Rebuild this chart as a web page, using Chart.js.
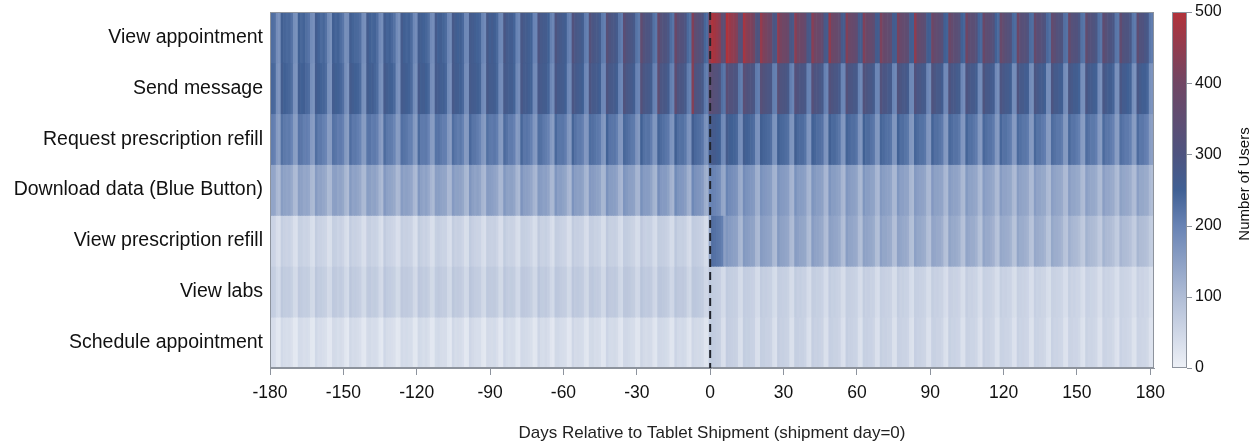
<!DOCTYPE html>
<html>
<head>
<meta charset="utf-8">
<script src="https://cdn.jsdelivr.net/npm/chart.js@4.4.1/dist/chart.umd.min.js"></script>
<style>
  html, body { margin: 0; padding: 0; background: #fff; }
</style>
</head>
<body>
<canvas id="heat" width="1260" height="445"></canvas>
<script>
const rowLabels = ['View appointment', 'Send message', 'Request prescription refill',
  'Download data (Blue Button)', 'View prescription refill', 'View labs', 'Schedule appointment'];
const xTicks = [-180, -150, -120, -90, -60, -30, 0, 30, 60, 90, 120, 150, 180];
const cbTicks = [0, 100, 200, 300, 400, 500];
const firstDay = -180;

// users per day, day -180 .. 181 (first line is Wed-Sun, then one week per line)
const viewAppointment = [
  238,231,226,182,176,
  254,243,236,239,224,180,173,
  250,239,246,229,221,185,177,
  262,246,235,242,226,187,175,
  253,241,247,232,219,178,181,
  258,245,239,236,228,183,178,
  266,249,242,246,230,189,180,
  259,244,250,238,225,186,176,
  268,252,243,249,233,191,184,
  262,256,247,241,229,188,182,
  271,250,258,245,235,194,185,
  276,260,251,254,238,192,188,
  269,263,256,247,241,197,186,
  279,258,265,253,237,195,190,
  287,267,259,261,244,200,192,
  283,271,264,256,247,198,194,
  296,275,268,265,250,204,196,
  301,281,272,263,255,206,200,
  312,286,277,272,259,210,202,
  321,292,283,277,263,213,205,
  332,299,289,283,269,218,208,
  341,306,296,288,275,222,212,
  356,315,301,296,281,226,216,
  372,324,310,303,288,231,220,
  389,335,319,311,295,236,225,
  428,349,331,320,304,242,233,
  455,492,478,463,441,352,338,
  498,470,452,446,425,331,318,
  482,441,428,419,402,309,298,
  456,420,411,398,386,296,287,
  448,409,396,390,377,289,281,
  441,401,388,383,369,284,276,
  436,396,384,376,362,279,270,
  452,392,379,371,358,276,268,
  429,388,375,368,354,272,265,
  424,384,371,364,349,269,262,
  419,379,368,360,346,266,259,
  414,376,364,356,342,263,256,
  445,372,360,351,338,260,253,
  398,361,352,342,329,252,246,
  392,366,344,336,325,248,241,
  401,350,339,338,318,244,238,
  385,346,341,328,314,247,235,
  379,352,331,323,312,237,232,
  390,337,326,324,305,234,229,
  372,333,329,315,301,238,226,
  366,338,318,310,299,228,223,
  375,325,314,312,293,225,220,
  359,321,316,302,289,226,218,
  354,327,306,298,287,219,215,
  362,313,302,300,282,217,213,
  348,309,305,291,278,216,210
];
const sendMessage = [
  248,241,236,176,170,
  262,251,244,240,229,174,168,
  258,249,253,238,231,179,171,
  266,255,247,244,233,176,172,
  261,252,249,241,228,181,169,
  268,257,251,246,235,178,173,
  264,254,258,243,232,183,175,
  271,259,252,249,237,180,172,
  267,261,255,247,234,185,176,
  273,258,260,251,239,182,178,
  270,263,256,254,241,187,177,
  276,262,259,250,238,184,179,
  272,266,261,255,243,189,180,
  279,264,263,257,240,186,182,
  275,268,260,259,245,190,181,
  282,267,265,256,247,188,184,
  278,271,264,261,244,193,185,
  286,269,268,263,249,191,187,
  290,274,266,260,251,195,186,
  294,276,271,265,253,193,189,
  301,280,274,268,256,198,191,
  309,284,277,271,258,200,194,
  322,289,281,275,262,203,196,
  346,293,285,279,266,206,199,
  352,299,290,284,270,209,202,
  431,307,296,289,276,214,206,
  352,334,321,318,302,228,219,
  341,316,311,301,296,215,206,
  337,313,303,299,287,211,205,
  329,309,301,292,286,206,203,
  331,303,297,293,280,207,197,
  323,304,292,290,282,201,199,
  326,298,295,285,276,203,194,
  318,301,289,286,273,197,196,
  321,294,291,279,275,199,190,
  313,297,284,282,268,194,193,
  316,290,288,276,271,197,188,
  309,293,281,279,265,191,190,
  312,286,284,272,268,194,185,
  304,289,277,275,261,188,188,
  307,283,280,268,264,191,182,
  301,285,273,271,257,186,185,
  303,279,276,265,260,189,180,
  296,282,270,267,254,183,183,
  299,276,272,261,256,186,178,
  292,278,266,264,250,181,180,
  295,272,269,258,253,184,176,
  289,275,262,260,247,179,178,
  291,269,265,254,249,182,174,
  285,271,259,257,244,177,176,
  287,266,261,251,246,180,172,
  282,268,256,253,241,176,174
];
const requestRefill = [
  214,209,203,158,152,
  226,215,209,212,198,156,150,
  221,218,206,208,201,160,153,
  229,212,214,205,196,154,157,
  224,219,208,211,203,161,152,
  231,214,216,207,199,157,155,
  219,221,210,213,204,163,151,
  233,216,212,209,197,155,158,
  227,222,217,206,205,162,154,
  235,213,211,214,200,158,156,
  222,224,215,208,206,164,153,
  230,217,209,216,202,159,160,
  238,220,218,210,199,165,155,
  226,215,213,217,207,161,157,
  234,223,210,211,203,157,162,
  240,218,221,214,205,166,158,
  229,226,214,209,201,162,156,
  237,219,217,219,208,167,160,
  243,224,212,213,204,163,164,
  232,228,222,216,210,169,159,
  246,221,219,220,206,165,163,
  239,231,224,215,212,170,161,
  249,226,220,223,208,166,165,
  244,234,227,219,214,172,168,
  252,230,225,226,216,175,170,
  258,238,231,228,219,178,173,
  262,271,265,258,249,192,184,
  268,255,251,246,238,183,177,
  259,248,244,239,231,176,172,
  254,243,240,236,228,173,169,
  251,240,237,231,226,171,168,
  256,237,234,233,222,169,165,
  248,241,231,228,224,172,167,
  252,235,236,226,219,168,164,
  245,238,229,230,221,170,166,
  249,232,233,224,217,166,162,
  243,236,227,227,219,168,164,
  247,230,231,222,215,165,161,
  241,233,225,225,217,167,163,
  245,228,229,220,213,163,159,
  239,231,223,223,215,165,162,
  243,226,227,218,211,162,158,
  237,229,221,221,213,164,160,
  241,224,225,216,209,160,157,
  235,227,219,219,211,162,159,
  239,222,223,214,207,159,155,
  233,225,217,217,209,161,158,
  237,220,221,212,205,157,154,
  231,223,215,215,207,160,156,
  235,218,219,210,203,156,153,
  229,221,213,213,205,158,155,
  233,216,217,208,201,155,152
];
const downloadData = [
  148,142,139,108,103,
  156,147,141,144,133,106,101,
  152,149,138,142,136,109,104,
  159,143,146,139,131,104,107,
  150,151,140,145,137,111,102,
  161,145,148,141,134,107,105,
  154,152,143,147,138,112,103,
  163,148,144,140,135,105,108,
  157,146,150,145,139,110,104,
  165,150,142,148,136,113,106,
  153,154,147,143,140,108,109,
  160,147,149,146,137,111,105,
  167,152,145,150,141,114,107,
  158,156,151,144,138,109,110,
  164,149,147,149,142,112,106,
  170,153,152,146,139,115,108,
  161,157,148,151,143,110,111,
  168,151,154,147,140,113,107,
  172,155,150,152,144,116,109,
  163,159,153,149,141,111,112,
  174,156,156,154,145,117,110,
  169,161,152,150,146,114,113,
  176,158,157,155,143,118,111,
  181,163,160,158,149,120,114,
  187,171,166,163,155,124,118,
  192,176,170,168,160,128,121,
  194,201,196,190,183,142,135,
  199,186,181,177,170,132,126,
  184,173,169,166,160,124,119,
  176,166,163,159,154,119,115,
  172,162,160,156,151,117,113,
  175,159,157,154,148,115,111,
  169,161,154,151,149,113,110,
  171,156,156,149,146,114,108,
  166,158,152,150,143,111,109,
  168,154,153,147,145,112,107,
  164,155,150,148,142,110,108,
  166,151,151,145,143,111,106,
  161,153,148,146,140,109,107,
  163,149,149,143,141,110,105,
  159,150,146,144,138,108,106,
  161,147,147,141,139,109,104,
  157,148,144,142,136,107,105,
  159,145,145,139,137,108,103,
  155,146,142,140,134,106,104,
  157,143,143,137,135,107,102,
  153,144,140,138,132,105,103,
  155,141,141,135,133,106,101,
  151,142,138,136,130,104,102,
  153,139,139,133,131,105,100,
  149,140,136,134,128,103,101,
  151,137,137,131,129,104,99
];
const viewRefill = [
  62,58,55,36,33,
  68,61,57,59,52,34,31,
  64,63,55,58,54,37,33,
  70,59,60,56,51,33,35,
  66,64,56,61,55,38,32,
  71,60,62,57,53,35,34,
  65,66,58,60,56,39,33,
  73,62,59,55,52,34,36,
  67,61,63,59,57,37,33,
  72,64,57,62,54,36,35,
  64,67,61,58,58,39,34,
  70,60,63,61,53,35,37,
  74,65,59,57,56,38,34,
  66,63,62,63,55,36,36,
  72,61,58,60,57,39,35,
  68,66,64,59,54,37,38,
  75,62,60,64,58,40,35,
  69,67,61,58,55,36,37,
  73,63,65,62,59,41,36,
  67,68,60,61,56,38,39,
  76,64,63,65,60,42,37,
  71,69,66,60,57,39,40,
  78,65,62,64,61,43,38,
  72,70,67,63,58,40,41,
  79,66,64,66,62,44,39,
  74,71,68,65,60,42,40,
  140,228,224,219,214,205,152,
  168,159,154,150,146,112,106,
  162,155,151,147,143,109,104,
  158,152,148,145,140,107,102,
  161,149,146,142,138,106,101,
  155,150,143,140,137,104,99,
  157,146,144,138,135,103,98,
  152,147,141,139,133,101,97,
  154,143,142,136,132,100,96,
  149,144,139,137,130,99,95,
  151,140,140,134,129,98,94,
  146,141,136,135,127,97,93,
  148,138,137,131,126,96,92,
  143,139,134,132,124,95,91,
  145,135,135,129,123,94,90,
  141,136,131,130,121,93,89,
  142,132,132,127,120,92,88,
  138,133,129,127,118,91,87,
  140,130,129,124,117,90,86,
  136,131,126,125,115,89,85,
  137,128,127,122,114,88,84,
  124,112,109,106,99,79,75,
  118,108,106,102,96,76,73,
  116,105,104,100,94,74,71,
  113,104,101,98,92,73,70,
  111,102,100,96,91,72,69
];
const viewLabs = [
  74,69,66,46,43,
  79,72,69,71,64,45,42,
  76,74,67,70,66,47,44,
  81,71,72,68,63,44,46,
  77,75,68,73,67,48,43,
  82,72,74,69,65,46,45,
  75,77,70,72,68,49,44,
  83,74,71,67,64,45,47,
  78,73,75,71,69,48,44,
  80,76,69,74,66,47,46,
  74,78,73,70,70,49,45,
  81,72,75,73,65,46,48,
  84,77,71,69,68,48,45,
  77,75,74,75,67,47,47,
  82,73,70,72,69,49,46,
  79,78,76,71,66,48,48,
  85,74,72,76,70,50,46,
  80,79,73,70,67,47,48,
  83,75,77,74,71,51,47,
  78,80,72,73,68,48,49,
  86,76,75,77,72,52,48,
  81,81,78,72,69,49,50,
  87,77,74,76,73,53,49,
  82,82,79,75,70,50,51,
  85,78,76,78,74,54,49,
  81,80,77,74,71,51,50,
  76,72,70,68,65,45,42,
  74,69,68,66,63,43,41,
  71,68,67,65,61,42,40,
  73,66,68,63,62,43,39,
  70,68,65,64,60,41,40,
  72,65,67,62,61,42,38,
  69,67,64,63,59,40,39,
  71,64,66,61,60,41,38,
  68,66,63,62,58,40,39,
  70,63,65,60,59,41,37,
  67,65,62,61,57,39,38,
  69,62,64,59,58,40,37,
  66,64,61,60,56,39,38,
  68,61,63,58,57,40,36,
  65,63,60,59,55,38,37,
  67,60,62,57,56,39,36,
  64,62,59,58,54,38,37,
  66,59,61,56,55,39,35,
  63,61,58,57,53,37,36,
  65,58,60,55,54,38,35,
  62,60,57,56,52,37,36,
  64,57,59,54,53,38,34,
  61,59,56,55,51,36,35,
  63,56,58,53,52,37,34,
  60,58,55,54,50,36,35,
  62,55,57,52,51,37,33
];
const scheduleAppointment = [
  41,38,36,19,17,
  46,40,37,39,33,18,16,
  43,42,36,38,35,20,17,
  48,39,40,37,32,17,19,
  44,43,37,41,36,21,16,
  49,40,42,38,34,19,18,
  42,45,38,40,37,22,17,
  50,41,39,36,33,18,20,
  45,40,43,39,38,20,17,
  47,43,37,42,35,19,19,
  43,46,41,38,39,22,18,
  49,39,42,41,34,18,20,
  51,44,38,37,37,21,18,
  44,42,41,43,36,19,20,
  50,40,37,40,38,22,19,
  46,45,43,39,35,20,21,
  52,41,39,44,39,23,19,
  47,46,40,38,36,19,21,
  51,42,44,42,40,24,20,
  45,47,39,41,37,21,22,
  53,43,42,45,41,25,21,
  49,48,45,40,38,22,23,
  54,44,41,44,42,26,22,
  50,49,46,43,39,23,24,
  55,45,43,46,43,27,23,
  52,47,44,45,41,25,24,
  68,72,69,66,63,36,33,
  71,67,65,63,60,35,32,
  69,64,66,61,59,34,33,
  67,66,62,62,57,35,31,
  70,63,64,60,58,33,32,
  66,65,61,61,56,34,31,
  68,62,63,59,57,33,32,
  65,64,60,60,55,34,30,
  67,61,62,58,56,32,31,
  64,63,59,59,54,33,30,
  66,60,61,57,55,32,31,
  63,62,58,58,53,33,29,
  65,59,60,56,54,31,30,
  62,61,57,57,52,32,29,
  64,58,59,55,53,31,30,
  61,60,56,56,51,32,28,
  63,57,58,54,52,30,29,
  60,59,55,55,50,31,28,
  62,56,57,53,51,30,29,
  59,58,54,54,49,31,27,
  61,55,56,52,50,29,28,
  58,57,53,53,48,30,27,
  60,54,55,51,49,29,28,
  57,56,52,52,47,30,26,
  59,53,54,50,48,29,27,
  56,55,51,51,47,28,27
];

const rows = [viewAppointment, sendMessage, requestRefill, downloadData,
  viewRefill, viewLabs, scheduleAppointment];
const days = viewAppointment.map((_, i) => firstDay + i);

// colour scale of the reference (light grey-blue -> blue -> purple -> red)
const stops = [
  [0, [238, 241, 247]],
  [100, [176, 189, 214]],
  [200, [104, 131, 180]],
  [250, [64, 96, 148]],
  [300, [78, 84, 128]],
  [400, [112, 70, 100]],
  [500, [178, 50, 58]]
];

function colorFor(v) {
  for (let i = 1; i < stops.length; i++) {
    if (v <= stops[i][0] || i === stops.length - 1) {
      const [v0, c0] = stops[i - 1];
      const [v1, c1] = stops[i];
      const t = Math.max(0, Math.min(1, (v - v0) / (v1 - v0)));
      const c = c0.map((a, k) => Math.round(a + (c1[k] - a) * t));
      return `rgb(${c[0]},${c[1]},${c[2]})`;
    }
  }
}

const FONT = '"Liberation Sans", Arial, Helvetica, sans-serif';
Chart.defaults.font.family = FONT;
const axisGrey = '#8d939d';

const datasets = rows.map((vals, r) => ({
  label: rowLabels[r],
  data: vals.map((v, i) => ({ x: days[i], y: [6 - r, 7 - r] })),
  backgroundColor: vals.map(colorFor),
  borderWidth: 0,
  barPercentage: 1,
  categoryPercentage: 1,
  grouped: false
}));

const decor = {
  id: 'decor',
  afterDatasetsDraw(chart) {
    const { ctx, chartArea: a, scales } = chart;
    ctx.save();

    // frame round the heat map
    ctx.strokeStyle = axisGrey;
    ctx.lineWidth = 1;
    ctx.strokeRect(a.left + 0.5, a.top + 0.5, a.width - 1, a.height - 1);

    // shipment day
    const x0 = scales.x.getPixelForValue(0);
    ctx.setLineDash([8, 5]);
    ctx.lineWidth = 2;
    ctx.strokeStyle = '#20232b';
    ctx.beginPath();
    ctx.moveTo(x0, a.top);
    ctx.lineTo(x0, a.bottom);
    ctx.stroke();
    ctx.setLineDash([]);

    // colour bar
    const cb = scales.cb;
    const bx = a.right + 18, bw = 15;
    const top = cb.getPixelForValue(500), bot = cb.getPixelForValue(0);
    const g = ctx.createLinearGradient(0, bot, 0, top);
    stops.forEach(([v, c]) => g.addColorStop(v / 500, `rgb(${c[0]},${c[1]},${c[2]})`));
    ctx.fillStyle = g;
    ctx.fillRect(bx, top, bw, bot - top);
    ctx.strokeStyle = axisGrey;
    ctx.lineWidth = 1;
    ctx.strokeRect(bx + 0.5, top + 0.5, bw - 1, bot - top - 1);
    cbTicks.forEach(v => {
      const y = Math.round(cb.getPixelForValue(v)) + 0.5;
      ctx.beginPath();
      ctx.moveTo(bx + bw, y);
      ctx.lineTo(bx + bw + 5, y);
      ctx.stroke();
    });

    ctx.translate(1245, (top + bot) / 2 - 6);
    ctx.rotate(-Math.PI / 2);
    ctx.fillStyle = '#111';
    ctx.font = '15px ' + FONT;
    ctx.textAlign = 'center';
    ctx.textBaseline = 'middle';
    ctx.fillText('Number of Users', 0, 0);
    ctx.restore();
  }
};

// keep the plot box where the reference has it
const noPad = s => { s.paddingTop = 0; s.paddingBottom = 0; };

new Chart(document.getElementById('heat'), {
  type: 'bar',
  data: { datasets },
  options: {
    responsive: false,
    animation: false,
    devicePixelRatio: 1,
    layout: { padding: { top: 12, left: 0, right: 0, bottom: 0 } },
    plugins: {
      legend: { display: false },
      tooltip: { enabled: false }
    },
    scales: {
      x: {
        type: 'linear',
        offset: false,
        min: -180,
        max: 181.5,
        afterBuildTicks: s => { s.ticks = xTicks.map(v => ({ value: v })); },
        afterFit: s => { s.height = 77; },
        grid: { offset: false, drawOnChartArea: false, drawTicks: true, tickLength: 7, color: axisGrey },
        border: { display: true, color: axisGrey },
        ticks: {
          color: '#111',
          font: { size: 17.5 },
          padding: 8,
          maxRotation: 0,
          autoSkip: false,
          callback: v => String(v)
        },
        title: {
          display: true,
          text: 'Days Relative to Tablet Shipment (shipment day=0)',
          color: '#222',
          font: { size: 17 },
          padding: { top: 0, bottom: 1 }
        }
      },
      y: {
        type: 'linear',
        min: 0,
        max: 7,
        afterBuildTicks: s => { s.ticks = rowLabels.map((_, i) => ({ value: 6.5 - i })); },
        afterFit: s => { s.width = 270; noPad(s); },
        grid: { display: false, drawTicks: false },
        border: { display: false },
        ticks: {
          color: '#111',
          font: { size: 19.5 },
          padding: 7,
          autoSkip: false,
          callback: v => rowLabels[Math.round(6.5 - v)]
        }
      },
      cb: {
        type: 'linear',
        position: 'right',
        min: 0,
        max: 500,
        afterBuildTicks: s => { s.ticks = cbTicks.map(v => ({ value: v })); },
        afterFit: s => { s.width = 106; noPad(s); },
        grid: { drawOnChartArea: false, drawTicks: true, tickLength: 36, color: 'rgba(0,0,0,0)' },
        border: { display: false },
        ticks: { color: '#111', font: { size: 16 }, padding: 5 }
      }
    }
  },
  plugins: [decor]
});
</script>
</body>
</html>
